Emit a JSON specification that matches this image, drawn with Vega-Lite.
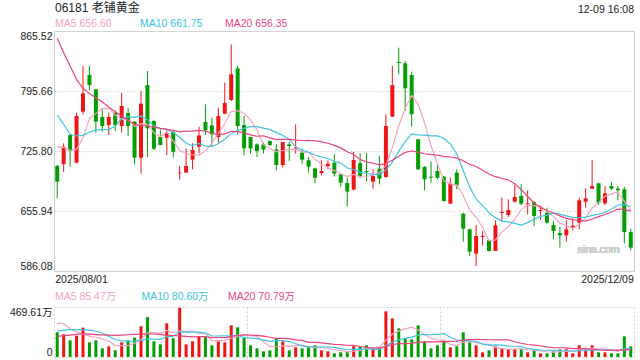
{
  "$schema": "https://vega.github.io/schema/vega-lite/v6.json",
  "padding": {"left": 8, "top": 2, "right": 6, "bottom": 0},
  "config": {
    "font": "Liberation Sans, Arial, Noto Sans CJK SC, sans-serif",
    "view": {"stroke": "#d0d0d0"},
    "axis": {"labelFontSize": 10.5, "labelColor": "#222", "labelFont": "Liberation Sans, Arial, Noto Sans CJK SC, sans-serif"},
    "legend": {"labelFontSize": 10.5, "labelFont": "Liberation Sans, Arial, Noto Sans CJK SC, sans-serif"}
  },
  "datasets": {
    "k": [
      {"d":"2025/08/01","o":708.3,"h":709.5,"l":670.7,"c":690.1,"v":231.7,"m5":730.8,"m10":767.7,"m20":857.0,"vm5":319,"vm10":244,"vm20":194},
      {"d":"2025/08/04","o":710.3,"h":734.7,"l":701.3,"c":730.8,"v":212.9,"m5":729.7,"m10":756.9,"m20":840.3,"vm5":313,"vm10":250,"vm20":200},
      {"d":"2025/08/05","o":744.4,"h":745.2,"l":707.2,"c":725.8,"v":156.6,"m5":726.6,"m10":745.2,"m20":824.8,"vm5":266,"vm10":257,"vm20":206},
      {"d":"2025/08/06","o":712.2,"h":770.4,"l":711.4,"c":766.5,"v":200.4,"m5":727.7,"m10":743.3,"m20":809.2,"vm5":235,"vm10":257,"vm20":212},
      {"d":"2025/08/07","o":771.6,"h":824.8,"l":768.5,"c":792.9,"v":275.5,"m5":741.2,"m10":744.0,"m20":798.8,"vm5":215.4,"vm10":257,"vm20":219},
      {"d":"2025/08/08","o":814.3,"h":824.8,"l":796.4,"c":802.6,"v":137.8,"m5":763.7,"m10":748.0,"m20":792.6,"vm5":196.6,"vm10":252,"vm20":214},
      {"d":"2025/08/11","o":797.6,"h":798.0,"l":747.1,"c":760.0,"v":156.6,"m5":769.6,"m10":750.3,"m20":787.9,"vm5":185.4,"vm10":244,"vm20":210},
      {"d":"2025/08/12","o":765.4,"h":774.3,"l":748.3,"c":754.9,"v":81.4,"m5":775.4,"m10":750.6,"m20":782.9,"vm5":170.3,"vm10":225,"vm20":207},
      {"d":"2025/08/13","o":756.1,"h":770.4,"l":744.4,"c":765.4,"v":100.2,"m5":775.2,"m10":751.0,"m20":777.0,"vm5":150.3,"vm10":195,"vm20":205},
      {"d":"2025/08/14","o":770.4,"h":773.1,"l":749.1,"c":756.1,"v":62.6,"m5":767.8,"m10":754.5,"m20":771.6,"vm5":107.7,"vm10":161.6,"vm20":204},
      {"d":"2025/08/15","o":754.9,"h":793.7,"l":747.1,"c":778.2,"v":137.8,"m5":762.9,"m10":763.3,"m20":766.5,"vm5":107.7,"vm10":152.2,"vm20":206},
      {"d":"2025/08/18","o":770.0,"h":776.2,"l":743.3,"c":754.9,"v":156.6,"m5":761.9,"m10":765.7,"m20":761.5,"vm5":107.7,"vm10":146.6,"vm20":209},
      {"d":"2025/08/19","o":760.0,"h":760.7,"l":710.3,"c":718.0,"v":181.6,"m5":754.5,"m10":765.0,"m20":756.9,"vm5":127.8,"vm10":149.1,"vm20":212},
      {"d":"2025/08/20","o":718.0,"h":795.7,"l":699.4,"c":780.9,"v":288.1,"m5":757.6,"m10":766.4,"m20":755.3,"vm5":165.3,"vm10":157.8,"vm20":214},
      {"d":"2025/08/21","o":802.6,"h":818.9,"l":718.8,"c":752.2,"v":375.7,"m5":756.8,"m10":762.3,"m20":754.9,"vm5":228.0,"vm10":167.8,"vm20":218},
      {"d":"2025/08/22","o":760.7,"h":761.5,"l":726.6,"c":728.5,"v":147.2,"m5":746.9,"m10":754.9,"m20":753.7,"vm5":229.8,"vm10":168.8,"vm20":216},
      {"d":"2025/08/25","o":742.1,"h":751.0,"l":732.4,"c":732.8,"v":119.0,"m5":742.5,"m10":752.2,"m20":752.2,"vm5":222.3,"vm10":165.0,"vm20":210},
      {"d":"2025/08/26","o":741.3,"h":749.9,"l":720.8,"c":746.4,"v":316.2,"m5":748.2,"m10":751.3,"m20":751.0,"vm5":249.2,"vm10":188.5,"vm20":205},
      {"d":"2025/08/27","o":747.9,"h":749.1,"l":718.0,"c":725.0,"v":175.3,"m5":737.0,"m10":747.3,"m20":749.9,"vm5":226.7,"vm10":196.0,"vm20":202},
      {"d":"2025/08/28","o":699.8,"h":708.3,"l":692.4,"c":700.6,"v":463.4,"m5":726.7,"m10":741.8,"m20":748.1,"vm5":244.2,"vm10":236.1,"vm20":198.8},
      {"d":"2025/08/29","o":700.6,"h":728.9,"l":700.6,"c":708.3,"v":119.0,"m5":722.6,"m10":734.8,"m20":749.0,"vm5":238.6,"vm10":234.2,"vm20":193.2},
      {"d":"2025/09/01","o":715.7,"h":734.7,"l":704.5,"c":727.0,"v":147.2,"m5":721.5,"m10":732.0,"m20":748.9,"vm5":244.2,"vm10":233.3,"vm20":189.9},
      {"d":"2025/09/02","o":730.8,"h":754.1,"l":722.7,"c":744.0,"v":187.9,"m5":721.0,"m10":734.6,"m20":749.8,"vm5":218.6,"vm10":233.9,"vm20":191.5},
      {"d":"2025/09/03","o":759.6,"h":780.1,"l":744.4,"c":749.9,"v":187.9,"m5":726.0,"m10":731.5,"m20":748.9,"vm5":221.1,"vm10":223.9,"vm20":190.9},
      {"d":"2025/09/04","o":755.7,"h":764.6,"l":730.5,"c":745.2,"v":109.6,"m5":734.9,"m10":730.8,"m20":746.5,"vm5":150.3,"vm10":197.3,"vm20":182.6},
      {"d":"2025/09/05","o":742.1,"h":776.2,"l":735.5,"c":766.5,"v":147.2,"m5":746.5,"m10":734.6,"m20":744.7,"vm5":156.0,"vm10":197.3,"vm20":183.0},
      {"d":"2025/09/08","o":769.3,"h":805.4,"l":768.5,"c":781.7,"v":137.8,"m5":757.5,"m10":739.5,"m20":745.8,"vm5":154.1,"vm10":199.2,"vm20":182.1},
      {"d":"2025/09/09","o":785.2,"h":850.0,"l":784.0,"c":815.1,"v":297.4,"m5":771.7,"m10":746.3,"m20":748.8,"vm5":176.0,"vm10":197.3,"vm20":192.9},
      {"d":"2025/09/10","o":822.0,"h":824.8,"l":745.2,"c":754.9,"v":278.7,"m5":772.7,"m10":749.3,"m20":748.3,"vm5":194.1,"vm10":207.6,"vm20":201.8},
      {"d":"2025/09/11","o":756.1,"h":766.5,"l":720.8,"c":728.9,"v":187.9,"m5":769.4,"m10":752.2,"m20":747.0,"vm5":209.8,"vm10":180.1,"vm20":208.1},
      {"d":"2025/09/12","o":742.1,"h":742.1,"l":722.7,"c":728.9,"v":109.6,"m5":761.9,"m10":754.2,"m20":744.5,"vm5":202.3,"vm10":179.1,"vm20":206.7},
      {"d":"2025/09/15","o":733.5,"h":734.7,"l":718.8,"c":725.8,"v":81.4,"m5":750.7,"m10":754.1,"m20":743.0,"vm5":191.0,"vm10":172.5,"vm20":202.9},
      {"d":"2025/09/16","o":733.5,"h":735.5,"l":722.7,"c":727.4,"v":53.2,"m5":733.2,"m10":752.4,"m20":743.5,"vm5":142.2,"vm10":159.1,"vm20":196.5},
      {"d":"2025/09/17","o":737.4,"h":738.2,"l":731.6,"c":732.8,"v":62.6,"m5":728.8,"m10":750.7,"m20":741.1,"vm5":98.9,"vm10":146.5,"vm20":185.2},
      {"d":"2025/09/18","o":727.7,"h":733.5,"l":703.3,"c":709.5,"v":175.3,"m5":724.9,"m10":747.2,"m20":739.0,"vm5":96.4,"vm10":153.1,"vm20":175.2},
      {"d":"2025/09/19","o":709.5,"h":736.3,"l":706.4,"c":736.3,"v":147.2,"m5":726.4,"m10":744.1,"m20":739.4,"vm5":103.9,"vm10":153.1,"vm20":175.2},
      {"d":"2025/09/22","o":733.5,"h":736.3,"l":714.2,"c":731.6,"v":62.6,"m5":727.5,"m10":739.1,"m20":739.3,"vm5":100.2,"vm10":145.6,"vm20":172.4},
      {"d":"2025/09/23","o":728.5,"h":756.9,"l":722.7,"c":729.7,"v":90.8,"m5":728.0,"m10":730.6,"m20":738.5,"vm5":107.7,"vm10":124.9,"vm20":161.1},
      {"d":"2025/09/24","o":723.9,"h":728.9,"l":710.3,"c":715.7,"v":81.4,"m5":724.6,"m10":726.7,"m20":738.0,"vm5":111.5,"vm10":105.2,"vm20":156.4},
      {"d":"2025/09/25","o":714.9,"h":718.8,"l":700.6,"c":707.5,"v":93.9,"m5":724.2,"m10":724.5,"m20":738.3,"vm5":95.2,"vm10":95.8,"vm20":137.9},
      {"d":"2025/09/26","o":705.6,"h":706.4,"l":688.2,"c":694.7,"v":109.6,"m5":715.8,"m10":721.1,"m20":737.7,"vm5":87.7,"vm10":95.8,"vm20":137.5},
      {"d":"2025/09/29","o":700.2,"h":714.9,"l":697.5,"c":702.5,"v":62.6,"m5":710.0,"m10":718.8,"m20":736.4,"vm5":87.7,"vm10":93.9,"vm20":133.2},
      {"d":"2025/09/30","o":708.3,"h":714.9,"l":704.5,"c":711.0,"v":53.2,"m5":706.3,"m10":717.1,"m20":734.8,"vm5":80.1,"vm10":93.9,"vm20":126.5},
      {"d":"2025/10/02","o":712.2,"h":721.9,"l":695.9,"c":699.4,"v":34.4,"m5":703.0,"m10":713.8,"m20":732.3,"vm5":70.7,"vm10":91.1,"vm20":118.8},
      {"d":"2025/10/03","o":698.6,"h":699.4,"l":684.3,"c":688.9,"v":43.8,"m5":699.3,"m10":711.7,"m20":729.4,"vm5":60.7,"vm10":78.0,"vm20":115.5},
      {"d":"2025/10/06","o":688.5,"h":694.8,"l":661.0,"c":678.5,"v":47.0,"m5":696.1,"m10":706.0,"m20":725.0,"vm5":48.2,"vm10":67.9,"vm20":110.5},
      {"d":"2025/10/08","o":680.8,"h":724.6,"l":680.0,"c":715.3,"v":100.2,"m5":698.6,"m10":704.3,"m20":721.7,"vm5":55.7,"vm10":71.7,"vm20":108.6},
      {"d":"2025/10/09","o":711.8,"h":723.5,"l":694.0,"c":696.7,"v":93.9,"m5":695.8,"m10":701.0,"m20":715.8,"vm5":63.9,"vm10":72.0,"vm20":98.5},
      {"d":"2025/10/10","o":702.5,"h":723.5,"l":690.9,"c":701.3,"v":109.6,"m5":696.1,"m10":699.6,"m20":713.1,"vm5":78.9,"vm10":74.8,"vm20":90.0},
      {"d":"2025/10/13","o":690.1,"h":704.5,"l":681.9,"c":696.7,"v":81.4,"m5":697.7,"m10":698.5,"m20":711.5,"vm5":86.4,"vm10":73.6,"vm20":84.7},
      {"d":"2025/10/14","o":705.2,"h":720.0,"l":687.0,"c":693.6,"v":81.4,"m5":700.7,"m10":698.4,"m20":709.7,"vm5":93.3,"vm10":70.8,"vm20":83.3},
      {"d":"2025/10/15","o":695.5,"h":768.5,"l":694.8,"c":754.9,"v":429.0,"m5":708.6,"m10":703.6,"m20":711.2,"vm5":159.1,"vm10":107.4,"vm20":100.7},
      {"d":"2025/10/16","o":765.8,"h":824.8,"l":765.4,"c":802.6,"v":363.2,"m5":729.8,"m10":712.8,"m20":715.0,"vm5":212.9,"vm10":138.4,"vm20":116.2},
      {"d":"2025/10/17","o":829.4,"h":846.1,"l":815.1,"c":828.3,"v":269.3,"m5":755.2,"m10":725.7,"m20":719.7,"vm5":244.9,"vm10":161.9,"vm20":126.5},
      {"d":"2025/10/20","o":827.9,"h":830.6,"l":772.4,"c":798.8,"v":175.3,"m5":775.6,"m10":736.7,"m20":724.2,"vm5":263.6,"vm10":175.0,"vm20":126.5},
      {"d":"2025/10/21","o":814.3,"h":818.2,"l":754.1,"c":768.5,"v":165.9,"m5":790.6,"m10":745.7,"m20":725.8,"vm5":280.5,"vm10":186.9,"vm20":127.4},
      {"d":"2025/10/22","o":739.4,"h":739.8,"l":703.7,"c":704.5,"v":297.4,"m5":780.5,"m10":744.6,"m20":724.5,"vm5":254.2,"vm10":206.6,"vm20":139.2},
      {"d":"2025/10/23","o":707.2,"h":708.3,"l":680.0,"c":692.8,"v":147.2,"m5":758.6,"m10":744.2,"m20":722.6,"vm5":211.0,"vm10":212.0,"vm20":142.0},
      {"d":"2025/10/24","o":695.9,"h":713.4,"l":688.9,"c":694.7,"v":81.4,"m5":731.9,"m10":743.5,"m20":721.6,"vm5":173.4,"vm10":209.2,"vm20":142.0},
      {"d":"2025/10/27","o":702.5,"h":709.5,"l":692.8,"c":694.7,"v":109.6,"m5":711.0,"m10":743.3,"m20":720.9,"vm5":160.3,"vm10":212.0,"vm20":142.8},
      {"d":"2025/10/28","o":695.9,"h":696.7,"l":666.8,"c":667.6,"v":156.6,"m5":690.9,"m10":740.7,"m20":719.6,"vm5":158.4,"vm10":219.5,"vm20":145.1},
      {"d":"2025/10/30","o":664.5,"h":694.8,"l":664.5,"c":687.8,"v":90.8,"m5":687.5,"m10":734.0,"m20":718.8,"vm5":117.1,"vm10":185.7,"vm20":146.5},
      {"d":"2025/10/31","o":700.6,"h":704.5,"l":681.2,"c":685.8,"v":100.2,"m5":686.1,"m10":722.4,"m20":717.6,"vm5":107.7,"vm10":159.4,"vm20":148.9},
      {"d":"2025/11/03","o":652.8,"h":654.0,"l":620.2,"c":635.4,"v":231.7,"m5":674.3,"m10":703.1,"m20":714.4,"vm5":137.8,"vm10":155.6,"vm20":158.7},
      {"d":"2025/11/04","o":634.6,"h":635.4,"l":603.5,"c":608.6,"v":137.8,"m5":657.0,"m10":684.0,"m20":710.4,"vm5":143.4,"vm10":151.9,"vm20":163.4},
      {"d":"2025/11/05","o":606.3,"h":639.6,"l":591.9,"c":626.8,"v":109.6,"m5":648.9,"m10":669.9,"m20":707.8,"vm5":134.0,"vm10":146.2,"vm20":166.6},
      {"d":"2025/11/06","o":625.7,"h":632.6,"l":616.0,"c":626.8,"v":43.8,"m5":636.7,"m10":662.1,"m20":703.3,"vm5":124.6,"vm10":120.9,"vm20":163.8},
      {"d":"2025/11/07","o":621.8,"h":622.6,"l":608.6,"c":609.4,"v":62.6,"m5":621.4,"m10":653.8,"m20":699.0,"vm5":117.1,"vm10":112.4,"vm20":162.2},
      {"d":"2025/11/10","o":609.4,"h":645.1,"l":609.4,"c":639.3,"v":100.2,"m5":622.2,"m10":648.2,"m20":695.9,"vm5":90.8,"vm10":114.3,"vm20":161.7},
      {"d":"2025/11/11","o":653.6,"h":671.5,"l":643.5,"c":654.8,"v":81.4,"m5":631.4,"m10":644.2,"m20":693.8,"vm5":79.5,"vm10":111.5,"vm20":161.7},
      {"d":"2025/11/12","o":651.3,"h":669.5,"l":649.0,"c":657.1,"v":72.0,"m5":637.5,"m10":643.2,"m20":692.0,"vm5":72.0,"vm10":103.0,"vm20":161.3},
      {"d":"2025/11/13","o":666.8,"h":686.2,"l":665.6,"c":672.2,"v":72.0,"m5":646.6,"m10":641.6,"m20":687.8,"vm5":77.6,"vm10":101.1,"vm20":143.4},
      {"d":"2025/11/14","o":673.4,"h":687.0,"l":662.9,"c":664.5,"v":72.0,"m5":657.6,"m10":639.5,"m20":680.9,"vm5":79.5,"vm10":98.3,"vm20":128.8},
      {"d":"2025/11/17","o":663.7,"h":680.0,"l":652.1,"c":664.9,"v":43.8,"m5":662.7,"m10":642.4,"m20":672.8,"vm5":68.2,"vm10":79.5,"vm20":117.6},
      {"d":"2025/11/18","o":666.4,"h":667.6,"l":638.5,"c":650.1,"v":62.6,"m5":661.8,"m10":646.6,"m20":665.3,"vm5":64.5,"vm10":72.0,"vm20":111.9},
      {"d":"2025/11/19","o":655.9,"h":661.8,"l":645.5,"c":657.1,"v":34.4,"m5":661.8,"m10":649.6,"m20":659.7,"vm5":57.0,"vm10":64.5,"vm20":105.4},
      {"d":"2025/11/20","o":654.0,"h":659.8,"l":641.2,"c":642.4,"v":34.4,"m5":655.8,"m10":651.2,"m20":656.6,"vm5":49.4,"vm10":63.5,"vm20":92.2},
      {"d":"2025/11/21","o":639.6,"h":644.3,"l":622.9,"c":632.7,"v":53.2,"m5":649.4,"m10":653.5,"m20":653.6,"vm5":45.7,"vm10":62.6,"vm20":87.5},
      {"d":"2025/11/24","o":630.3,"h":637.3,"l":613.3,"c":627.6,"v":72.0,"m5":642.0,"m10":652.3,"m20":650.3,"vm5":51.3,"vm10":59.8,"vm20":87.0},
      {"d":"2025/11/25","o":627.6,"h":645.1,"l":620.2,"c":634.6,"v":72.0,"m5":638.9,"m10":650.3,"m20":647.3,"vm5":53.2,"vm10":58.8,"vm20":85.2},
      {"d":"2025/11/26","o":637.3,"h":647.4,"l":633.4,"c":638.9,"v":34.4,"m5":635.2,"m10":648.5,"m20":645.8,"vm5":53.2,"vm10":55.1,"vm20":79.0},
      {"d":"2025/11/27","o":642.4,"h":671.5,"l":634.6,"c":668.4,"v":109.6,"m5":640.4,"m10":648.1,"m20":644.9,"vm5":68.2,"vm10":58.8,"vm20":80.0},
      {"d":"2025/11/28","o":666.8,"h":682.3,"l":659.8,"c":670.7,"v":81.4,"m5":648.0,"m10":648.7,"m20":644.1,"vm5":73.9,"vm10":59.8,"vm20":79.0},
      {"d":"2025/12/01","o":681.9,"h":715.3,"l":681.9,"c":685.0,"v":109.6,"m5":659.5,"m10":650.8,"m20":646.6,"vm5":81.4,"vm10":66.4,"vm20":72.9},
      {"d":"2025/12/02","o":688.1,"h":688.9,"l":662.9,"c":665.6,"v":43.8,"m5":665.7,"m10":652.3,"m20":649.4,"vm5":75.8,"vm10":64.5,"vm20":68.2},
      {"d":"2025/12/03","o":664.9,"h":685.0,"l":662.9,"c":676.5,"v":43.8,"m5":673.2,"m10":654.2,"m20":651.9,"vm5":77.6,"vm10":65.4,"vm20":65.0},
      {"d":"2025/12/04","o":685.0,"h":690.1,"l":680.4,"c":681.9,"v":34.4,"m5":675.9,"m10":658.2,"m20":654.7,"vm5":62.6,"vm10":65.4,"vm20":64.5},
      {"d":"2025/12/05","o":682.0,"h":685.0,"l":668.5,"c":680.0,"v":34.4,"m5":677.8,"m10":662.9,"m20":658.2,"vm5":53.2,"vm10":63.5,"vm20":63.1},
      {"d":"2025/12/08","o":681.2,"h":683.9,"l":618.3,"c":631.5,"v":194.1,"m5":667.1,"m10":663.3,"m20":657.8,"vm5":70.1,"vm10":75.8,"vm20":67.8},
      {"d":"2025/12/09","o":631.5,"h":635.4,"l":610.1,"c":613.3,"v":100.2,"m5":656.6,"m10":661.2,"m20":655.8,"vm5":81.4,"vm10":78.6,"vm20":68.7}
    ]
  },
  "spacing": 6,
  "resolve": {"scale": {"color": "independent"}, "legend": {"color": "independent"}},
  "vconcat": [
    {
      "width": 580,
      "height": 240,
      "data": {"name": "k"},
      "title": {"text": "12-09 16:08", "anchor": "end", "fontSize": 10.5, "fontWeight": "normal", "color": "#222", "offset": -12},
      "encoding": {
        "x": {
          "field": "d", "type": "ordinal", "sort": null,
          "scale": {"paddingInner": 0, "paddingOuter": 0},
          "axis": {
            "title": null, "values": ["2025/08/01", "2025/12/09"], "ticks": false, "domain": false, "grid": false,
            "labelAngle": 0, "labelPadding": 3,
            "labelAlign": {"condition": {"test": "datum.value == '2025/08/01'", "value": "left"}, "value": "right"},
            "labelOffset": {"condition": {"test": "datum.value == '2025/08/01'", "value": -2}, "value": 3}
          }
        }
      },
      "layer": [
        {
          "mark": {"type": "rule", "strokeWidth": 1},
          "encoding": {
            "y": {
              "field": "l", "type": "quantitative",
              "scale": {"domain": [586.08, 865.52], "nice": false, "zero": false},
              "axis": {
                "title": null, "values": [586.08, 655.94, 725.80, 795.66, 865.52], "format": ".2f",
                "labelFlush": true, "ticks": false, "domain": false, "labelPadding": 2,
                "grid": true, "gridDash": [2, 2], "gridColor": "#d8d8d8"
              }
            },
            "y2": {"field": "h"},
            "color": {"condition": {"test": "datum.c >= datum.o", "value": "#f01515"}, "value": "#049d04"}
          }
        },
        {
          "mark": {"type": "bar", "size": 4},
          "encoding": {
            "y": {"field": "o", "type": "quantitative"},
            "y2": {"field": "c"},
            "color": {"condition": {"test": "datum.c >= datum.o", "value": "#f01515"}, "value": "#049d04"}
          }
        },
        {
          "transform": [{"fold": ["m5", "m10", "m20"], "as": ["k", "val"]}],
          "mark": {"type": "line", "strokeWidth": 1.2},
          "encoding": {
            "y": {"field": "val", "type": "quantitative"},
            "color": {
              "field": "k", "type": "nominal",
              "scale": {"domain": ["m5", "m10", "m20"], "range": ["#f7a3c3", "#40c4e0", "#e8457e"]},
              "legend": {
                "orient": "none", "legendX": 1, "legendY": -28, "direction": "horizontal", "columns": 3,
                "gridAlign": "all", "columnPadding": 22,
                "title": "06181 老铺黄金", "titleOrient": "top", "titleAnchor": "start", "titleFontSize": 12,
                "titleFontWeight": "normal", "titleColor": "#222", "titlePadding": 4,
                "symbolSize": 0.01, "symbolStrokeWidth": 0, "symbolOpacity": 0, "labelOffset": -10.5,
                "labelExpr": "datum.value == 'm5' ? 'MA5 656.60' : datum.value == 'm10' ? 'MA10 661.75' : 'MA20 656.35'",
                "labelColor": {"expr": "datum.value == 'm5' ? '#f7a3c3' : datum.value == 'm10' ? '#40c4e0' : '#e8457e'"}
              }
            }
          }
        },
        {
          "mark": {"type": "text", "fontSize": 10.5, "color": "#cfcfcf", "align": "center", "baseline": "middle"},
          "encoding": {
            "x": {"datum": "2025/12/02"},
            "y": {"datum": 610.5},
            "text": {"value": "sina.com"}
          }
        }
      ]
    },
    {
      "width": 580,
      "height": 50,
      "view": {"stroke": "#d0d0d0", "strokeDash": [2, 2]},
      "data": {"name": "k"},
      "encoding": {
        "x": {
          "field": "d", "type": "ordinal", "sort": null,
          "scale": {"paddingInner": 0, "paddingOuter": 0},
          "axis": {
            "title": null, "values": ["2025/09/11", "2025/10/27"], "labels": false, "ticks": false, "domain": false,
            "grid": true, "gridDash": [2, 2], "gridColor": "#cfcfcf", "bandPosition": 1
          }
        }
      },
      "layer": [
        {
          "mark": {"type": "bar", "size": 3},
          "encoding": {
            "y": {
              "field": "v", "type": "quantitative",
              "scale": {"domain": [0, 469.61], "nice": false},
              "axis": {
                "title": null, "values": [0, 469.61], "labelFlush": true, "ticks": false, "domain": false,
                "labelPadding": 2, "grid": false,
                "labelExpr": "datum.value == 0 ? '0' : format(datum.value, '.2f') + '万'"
              }
            },
            "color": {"condition": {"test": "datum.c >= datum.o", "value": "#f01515"}, "value": "#049d04"}
          }
        },
        {
          "transform": [{"fold": ["vm5", "vm10", "vm20"], "as": ["vk", "vval"]}],
          "mark": {"type": "line", "strokeWidth": 1.2},
          "encoding": {
            "y": {"field": "vval", "type": "quantitative"},
            "color": {
              "field": "vk", "type": "nominal",
              "scale": {"domain": ["vm5", "vm10", "vm20"], "range": ["#f7a3c3", "#40c4e0", "#e8457e"]},
              "legend": {
                "orient": "none", "legendX": 1, "legendY": -15, "direction": "horizontal", "columns": 3,
                "gridAlign": "all", "columnPadding": 18.5, "title": null,
                "symbolSize": 0.01, "symbolStrokeWidth": 0, "symbolOpacity": 0, "labelOffset": -10.5,
                "labelExpr": "datum.value == 'vm5' ? 'MA5 85.47万' : datum.value == 'vm10' ? 'MA10 80.60万' : 'MA20 70.79万'",
                "labelColor": {"expr": "datum.value == 'vm5' ? '#f7a3c3' : datum.value == 'vm10' ? '#40c4e0' : '#e8457e'"}
              }
            }
          }
        }
      ]
    }
  ]
}
